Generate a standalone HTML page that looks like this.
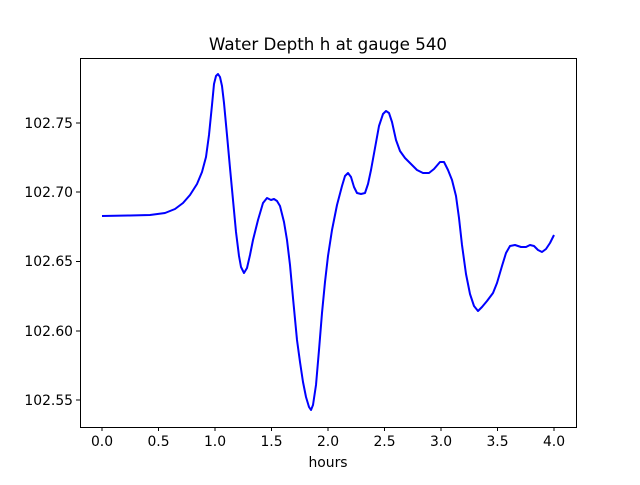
<!DOCTYPE html>
<html><head><meta charset="utf-8"><style>
body{margin:0;background:#fff;}
svg text{font-family:"DejaVu Sans","Liberation Sans",sans-serif;font-size:13.9px;fill:#000;}
</style></head><body>
<svg width="640" height="480" viewBox="0 0 640 480" xmlns="http://www.w3.org/2000/svg">
<rect width="640" height="480" fill="#fff"/>
<polyline fill="none" stroke="#0000ff" stroke-width="2" stroke-linejoin="round" points="102,216 130,215.5 150,215 165,213 175,209 183,203 190,195 197,184 202,172 206,157 209,135 212,105 214,84 216,76 218,74 220,77 222,86 224,103 227,135 230,168 233,200 236,232 239,256 241,267 244,273 247,268 250,255 253,240 258,220 263,203 267,198 271,200 274,199 277,201 280,206 284,222 287,240 290,265 293,298 297,340 300,362 303,382 306,397 309,407 311,410 313,405 316,385 319,350 322,313 325,282 328,256 332,230 337,205 342,186 345,176 348,173 351,177 354,187 357,193 361,194 365,193 368,184 371,170 375,148 379,126 383,114 386,111 389,113 392,122 396,140 400,151 405,158 411,164 417,170 423,173 429,173 434,169 440,162 444,162 448,170 452,180 456,196 459,218 462,245 466,274 470,294 474,306 478,311 482,307 487,301 493,293 497,283 502,266 506,253 510,246 515,245 521,247 526,247 530,245 534,246 538,250 542,252 546,249 550,243 554,235"/>
<rect x="80.5" y="58.5" width="496" height="369" fill="none" stroke="#000" stroke-width="1"/>
<g stroke="#000">
<line x1="102" y1="427" x2="102" y2="431"/><line x1="158.5" y1="427" x2="158.5" y2="431"/><line x1="215" y1="427" x2="215" y2="431"/><line x1="271.5" y1="427" x2="271.5" y2="431"/><line x1="328" y1="427" x2="328" y2="431"/><line x1="384.5" y1="427" x2="384.5" y2="431"/><line x1="441" y1="427" x2="441" y2="431"/><line x1="497.5" y1="427" x2="497.5" y2="431"/><line x1="554" y1="427" x2="554" y2="431"/>
<line x1="76" y1="123" x2="80" y2="123"/><line x1="76" y1="192" x2="80" y2="192"/><line x1="76" y1="261.5" x2="80" y2="261.5"/><line x1="76" y1="331" x2="80" y2="331"/><line x1="76" y1="400" x2="80" y2="400"/>
</g>
<g text-anchor="middle">
<text x="102" y="446">0.0</text><text x="158.5" y="446">0.5</text><text x="215" y="446">1.0</text><text x="271.5" y="446">1.5</text><text x="328" y="446">2.0</text><text x="384.5" y="446">2.5</text><text x="441" y="446">3.0</text><text x="497.5" y="446">3.5</text><text x="554" y="446">4.0</text>
<text x="328" y="467">hours</text>
<text x="328" y="50" style="font-size:16.7px">Water Depth h at gauge 540</text>
</g>
<g text-anchor="end">
<text x="73" y="128">102.75</text><text x="73" y="197">102.70</text><text x="73" y="266">102.65</text><text x="73" y="336">102.60</text><text x="73" y="405">102.55</text>
</g>
</svg>
</body></html>
